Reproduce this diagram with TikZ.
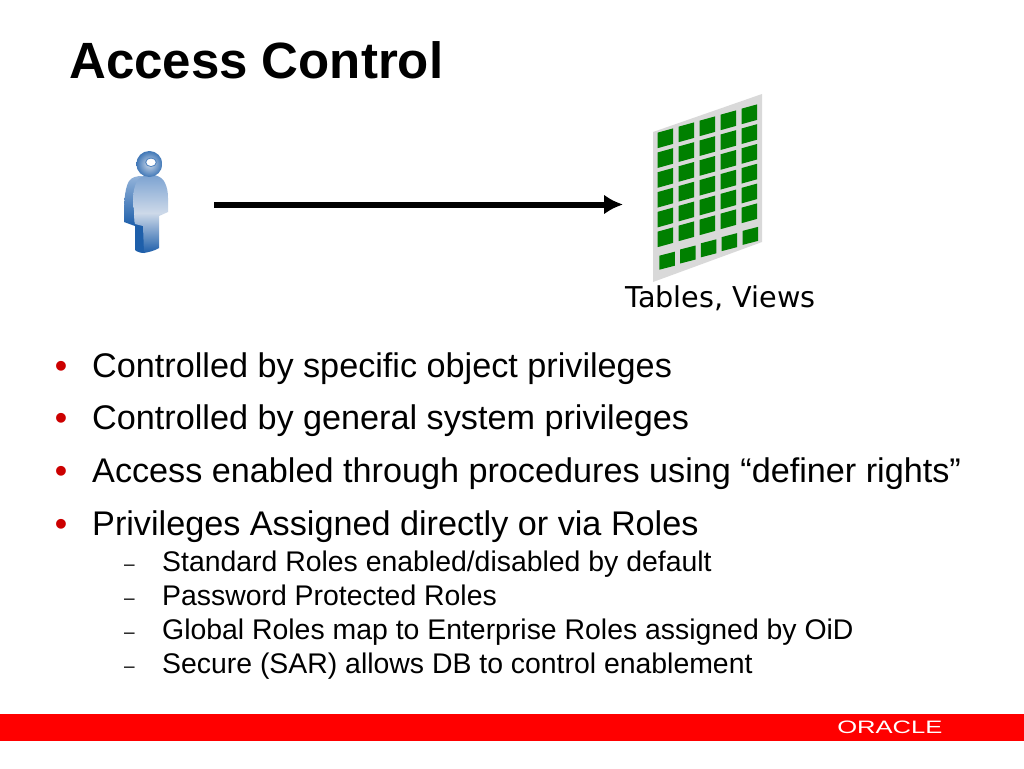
\documentclass[tikz,border=0pt]{standalone}
\usepackage{fontspec}
\setmainfont{Liberation Sans}
\newfontfamily\dejavu{DejaVu Sans}
\usetikzlibrary{arrows.meta}
\definecolor{brandred}{RGB}{255,0,0}
\definecolor{bulletred}{RGB}{204,0,0}
\definecolor{panelgrey}{RGB}{217,217,217}
\definecolor{cellgreen}{RGB}{0,128,0}
\definecolor{persondark}{RGB}{30,95,170}
\definecolor{personmid}{RGB}{120,160,208}
\definecolor{personlight}{RGB}{205,217,233}
\tikzset{
  titletext/.style={anchor=base west,inner sep=0pt,font=\fontsize{51}{51}\selectfont\bfseries},
  bodytext/.style={anchor=base west,inner sep=0pt,font=\fontsize{34.2}{34.2}\selectfont},
  subtext/.style={anchor=base west,inner sep=0pt,font=\fontsize{28.4}{28.4}\selectfont},
  bulletmark/.style={anchor=base west,inner sep=0pt,text=bulletred,font=\fontsize{34}{34}\selectfont\bfseries},
  dashmark/.style={anchor=base west,inner sep=0pt,font=\fontsize{19}{19}\selectfont},
  anchorbox/.style={inner sep=0pt,outer sep=0pt,minimum width=#1,minimum height=10},
  gridcell/.style={fill=cellgreen,draw=none}
}
\begin{document}
\begin{tikzpicture}[x=1pt,y=-1pt]
\useasboundingbox (0,0) rectangle (1024,768);
\fill[white] (0,0) rectangle (1024,768);
% title
\node[titletext] (title) at (69,78) {Access Control};
% person: back of the body
\shade[top color=personmid!80!white,bottom color=persondark] (124,222) .. controls (124,205) and (124,190) .. (129,181) .. controls (132,177) and (137,176) .. (142,176) -- (133,197) -- (135,226) -- cycle;
% person: dark side of the leg
\fill[persondark] (135,224) -- (144,224) -- (144,253) .. controls (141,253) and (137,252) .. (135,250) -- cycle;
% person: front of the body
\shade[top color=personmid,bottom color=persondark,middle color=personlight] (133,197) .. controls (134,185) and (138,177) .. (143,176) .. controls (150,173) and (162,175) .. (165,183) .. controls (167,187) and (168,192) .. (168,198) -- (168,212) -- (159,216) -- (159,248) .. controls (154,251) and (149,252) .. (144,253) -- (143,226) -- (135,224) -- cycle;
% person: head
\shade[inner color=personlight,outer color=persondark!85!white] (149.3,164) circle (13);
\fill[white] (151,162.3) ellipse (5 and 4);
\draw[personmid!60!persondark,line width=0.9pt] (151,162.3) ellipse (5.3 and 4.3);
% panel
\fill[panelgrey] (653,132) -- (762,94) -- (762,242) -- (653,282) -- cycle;
\foreach \c in {0,...,4}{
  \foreach \r in {0,...,5}{
    \pgfmathsetmacro{\xx}{657.5+21*\c}
    \pgfmathsetmacro{\yy}{132.7-6*\c+19.8*\r}
    \fill[gridcell] (\xx,\yy) -- ++(15.5,-4.3) -- ++(0,15.5) -- ++(-15.5,4.3) -- cycle;
  }
  \pgfmathsetmacro{\xx}{659.3+20.8*\c}
  \pgfmathsetmacro{\yy}{255.7-6.2*\c}
  \fill[gridcell] (\xx,\yy) -- ++(15.5,-4) -- ++(0,14) -- ++(-15.5,4) -- cycle;
}
% connector
\node[anchorbox=46] (person) at (147,204.5) {};
\node[anchorbox=110] (grid) at (707,204.5) {};
\draw[line width=6pt,-{Latex[length=19pt,width=20pt]},shorten <=44pt,shorten >=29pt] (person.east) -- (grid.west);
\node[anchor=base west,inner sep=0pt,font=\dejavu\fontsize{28.7}{28.7}\selectfont] (tablelabel) at (625,307) {Tables, Views};
% bullets
\node[bulletmark] (b1) at (55,377) {•};
\node[bulletmark] (b2) at (55,429) {•};
\node[bulletmark] (b3) at (55,482) {•};
\node[bulletmark] (b4) at (55,535) {•};
\node[bodytext] (t1) at (92,377) {Controlled by specific object privileges};
\node[bodytext] (t2) at (92,429) {Controlled by general system privileges};
\node[bodytext] (t3) at (92,482) {Access enabled through procedures using “definer rights”};
\node[bodytext] (t4) at (92,535) {Privileges Assigned directly or via Roles};
\node[dashmark] (d1) at (124,570) {–};
\node[dashmark] (d2) at (124,604) {–};
\node[dashmark] (d3) at (124,638) {–};
\node[dashmark] (d4) at (124,672) {–};
\node[subtext] (s1) at (162,571) {Standard Roles enabled/disabled by default};
\node[subtext] (s2) at (162,605) {Password Protected Roles};
\node[subtext] (s3) at (162,639) {Global Roles map to Enterprise Roles assigned by OiD};
\node[subtext] (s4) at (162,673) {Secure (SAR) allows DB to control enablement};
% footer
\fill[brandred] (0,714) rectangle (1024,741);
\node[anchor=base west,inner sep=0pt,text=white,xscale=1.42,font=\fontsize{18}{18}\selectfont] (logo) at (837,733.5) {ORACLE};
\end{tikzpicture}
\end{document}
